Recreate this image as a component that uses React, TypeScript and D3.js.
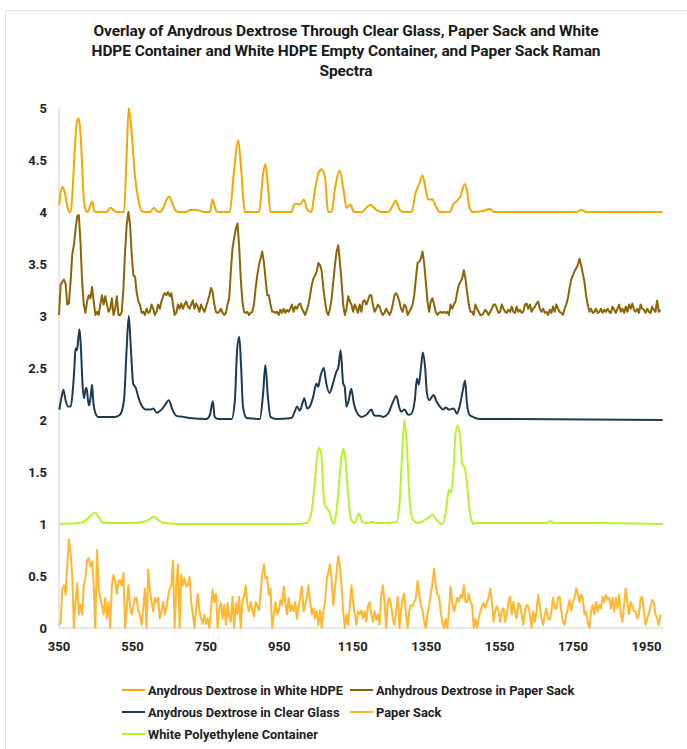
import React from 'react';
import * as d3 from 'd3';

const W = 687;
const H = 749;
const PLOT = { left: 59, right: 663, top: 108, bottom: 628 };

const X_MIN = 350;
const X_MAX = 1995;
const xTicks = [350, 550, 750, 950, 1150, 1350, 1550, 1750, 1950];
const yTicks = [0, 0.5, 1, 1.5, 2, 2.5, 3, 3.5, 4, 4.5, 5];

const titleLines = [
  'Overlay of Anydrous Dextrose Through Clear Glass, Paper Sack and White',
  'HDPE Container and White HDPE Empty Container, and Paper Sack Raman',
  'Spectra',
];

// wavenumber grid of the two noisy spectra (cm-1)
const noisyGrid = d3.range(350, 1990, 4.5);

const paperSack = [
  0.03, 0.05, 0.38, 0.41, 0.32, 0.61, 0.85, 0.72, 0.51, 0, 0.25, 0.43, 0.13, 0.22, 0.13, 0.41, 0.48, 0.65, 0.67, 0.59,
  0.64, 0.41, 0, 0.75, 0.38, 0.29, 0.22, 0.13, 0.29, 0.09, 0.25, 0, 0.41, 0.51, 0.45, 0.33, 0.45, 0.46, 0.41, 0.53,
  0, 0.19, 0.41, 0.21, 0.13, 0.21, 0.29, 0.29, 0.16, 0.13, 0.03, 0.19, 0.38, 0, 0.56, 0.37, 0.25, 0.16, 0.29, 0.25,
  0.29, 0.09, 0.16, 0.25, 0.13, 0.19, 0.3, 0.38, 0.41, 0.65, 0, 0.41, 0.61, 0, 0.51, 0.41, 0.48, 0.4, 0.41, 0.49,
  0.25, 0.13, 0, 0.19, 0.33, 0.16, 0.09, 0.04, 0.13, 0.04, 0.09, 0, 0.19, 0.37, 0.25, 0.33, 0, 0.19, 0.24, 0.09,
  0.22, 0.03, 0.24, 0.11, 0.06, 0.3, 0, 0.24, 0.13, 0.3, 0, 0.27, 0.3, 0.41, 0.22, 0.16, 0.25, 0.17, 0.11, 0.25,
  0.21, 0.17, 0.33, 0.51, 0.61, 0.48, 0.49, 0.32, 0.38, 0, 0.13, 0.25, 0.13, 0.17, 0.27, 0.22, 0.4, 0.24, 0.13, 0.29,
  0.16, 0.22, 0.16, 0.25, 0.09, 0.21, 0.29, 0.4, 0.16, 0.22, 0.29, 0.41, 0.25, 0.13, 0.19, 0.09, 0.16, 0.03, 0.17, 0,
  0.16, 0.25, 0.46, 0.54, 0.61, 0.45, 0.22, 0.38, 0.54, 0.69, 0.59, 0.41, 0.16, 0, 0.13, 0.03, 0.21, 0.41, 0.25, 0.13,
  0.03,
  0.16, 0.13, 0.17, 0.09, 0.16, 0.06, 0.21, 0.25, 0.13, 0.06, 0.16, 0.08, 0.13, 0.03, 0.32, 0.41, 0.25, 0, 0.25, 0.29,
  0.22, 0.09, 0.03, 0.16, 0.3, 0, 0.16, 0.29, 0.33, 0.13, 0, 0.16, 0.22, 0.21, 0.25, 0.29, 0.45, 0.32, 0.22, 0.17,
  0.06, 0, 0.13, 0.22, 0.32, 0.43, 0.57, 0.41, 0.32, 0.3, 0.16, 0.06, 0, 0.09, 0, 0.16, 0.4, 0.25, 0.16, 0.22,
  0.29, 0.25, 0.32, 0.29, 0.41, 0.25, 0.25, 0.33, 0.25, 0.22, 0, 0.09, 0, 0.09, 0.16, 0.21, 0.24, 0.19, 0.25, 0.29,
  0.38, 0.25, 0.06, 0.17, 0.21, 0.16, 0.06, 0.17, 0.19, 0.06, 0.13, 0.25, 0.3, 0.13, 0.25, 0.16, 0.09, 0.24, 0.22, 0.13,
  0.03, 0.16, 0.22, 0.21, 0.13, 0, 0.16, 0.06, 0.16, 0.32, 0.22, 0.09, 0.03, 0.13, 0.19, 0.09, 0.08, 0.16, 0.29, 0.19,
  0.19, 0.29, 0.3, 0.16, 0.06, 0.03, 0.13, 0.19, 0.27, 0.17, 0.25, 0.29, 0.38, 0.32, 0.25, 0.32, 0.29, 0.13, 0.16, 0.06,
  0, 0.16, 0.22, 0.13, 0.25, 0.16, 0.22, 0.19, 0.3, 0.25, 0.32, 0.27, 0.29, 0.19, 0.29, 0.16, 0.29, 0.19, 0.32, 0.13,
  0.06, 0.22, 0.38, 0.25, 0.13, 0.25, 0.21, 0.16, 0.16, 0.09, 0.13, 0.29, 0.3, 0.16, 0.03, 0.09, 0.14, 0.21, 0.27, 0.25,
  0.13, 0.09, 0.03, 0.13,
];

const dextroseInPaperSack = [
  3.01, 3.3, 3.33, 3.35, 3.31, 3.11, 3.12, 3.33, 3.59, 3.68, 3.83, 3.96, 3.97, 3.71, 3.33, 3.11, 3.03, 3.14, 3.2, 3.17,
  3.28, 3.14, 3.01, 3.04, 3.01, 3.11, 3.2, 3.11, 3.19, 3.11, 3.04, 3.07, 3.17, 3.01, 3.07, 3.19, 3.01, 3.01, 3.04, 3.27,
  3.62, 3.88, 4.0, 3.88, 3.59, 3.39, 3.38, 3.23, 3.14, 3.11, 3.03, 3.04, 3.01, 3.07, 3.03, 3.04, 3.11, 3.07, 3.01, 3.04,
  3.11, 3.07, 3.14, 3.19, 3.22, 3.2, 3.23, 3.19, 3.22, 3.11, 3.01, 3.03, 3.11, 3.07, 3.12, 3.07, 3.11, 3.14, 3.09, 3.07,
  3.11, 3.15, 3.07, 3.12, 3.09, 3.04, 3.11, 3.07, 3.04, 3.09, 3.14, 3.2, 3.27, 3.23, 3.11, 3.04, 3.03, 3.04, 3.07, 3.03,
  3.01, 3.03, 3.11, 3.17, 3.43, 3.65, 3.75, 3.84, 3.89, 3.68, 3.36, 3.14, 3.04, 3.03, 3.04, 3.01, 3.03, 3.04, 3.11, 3.27,
  3.39, 3.49, 3.55, 3.62, 3.52, 3.36, 3.2, 3.2, 3.11, 3.04, 3.04, 3.03, 3.04, 3.01, 3.06, 3.03, 3.07, 3.03, 3.06, 3.04,
  3.07, 3.11, 3.04, 3.09, 3.07, 3.11, 3.12, 3.07, 3.04, 3.01, 3.06, 3.11, 3.2, 3.3, 3.36, 3.39, 3.43, 3.51, 3.49, 3.43,
  3.27, 3.14, 3.04, 3.01, 3.07, 3.17, 3.33, 3.49, 3.62, 3.68, 3.52, 3.33, 3.11, 3.01, 3.07, 3.19, 3.14, 3.11, 3.04, 3.11,
  3.07,
  3.03, 3.11, 3.04, 3.14, 3.15, 3.11, 3.15, 3.2, 3.2, 3.11, 3.04, 3.07, 3.11, 3.09, 3.04, 3.01, 3.03, 3.07, 3.04, 3.01,
  3.04, 3.11, 3.2, 3.22, 3.19, 3.14, 3.07, 3.04, 3.11, 3.09, 3.01, 3.04, 3.07, 3.11, 3.2, 3.36, 3.51, 3.52, 3.55, 3.62,
  3.51, 3.33, 3.14, 3.04, 3.14, 3.17, 3.11, 3.04, 3.01, 3.03, 3.04, 3.03, 3.04, 3.03, 3.04, 3.01, 3.11, 3.07, 3.11, 3.14,
  3.23, 3.3, 3.33, 3.36, 3.44, 3.36, 3.23, 3.11, 3.04, 3.04, 3.01, 3.11, 3.07, 3.04, 3.01, 3.01, 3.03, 3.06, 3.04, 3.01,
  3.04, 3.07, 3.11, 3.11, 3.07, 3.03, 3.04, 3.11, 3.07, 3.04, 3.03, 3.06, 3.04, 3.09, 3.04, 3.03, 3.09, 3.04, 3.06, 3.03,
  3.04, 3.11, 3.12, 3.07, 3.11, 3.04, 3.07, 3.09, 3.12, 3.14, 3.07, 3.04, 3.07, 3.03, 3.04, 3.01, 3.06, 3.03, 3.09, 3.04,
  3.11, 3.07, 3.04, 3.03, 3.01, 3.07, 3.11, 3.17, 3.27, 3.35, 3.39, 3.43, 3.46, 3.49, 3.55, 3.49, 3.41, 3.33, 3.2, 3.11,
  3.04, 3.07, 3.03, 3.04, 3.07, 3.03, 3.04, 3.07, 3.03, 3.06, 3.04, 3.07, 3.04, 3.03, 3.09, 3.06, 3.03, 3.07, 3.11, 3.04,
  3.07, 3.03, 3.09, 3.04, 3.11, 3.07, 3.12, 3.06, 3.04, 3.07, 3.03, 3.11, 3.07, 3.06, 3.03, 3.07, 3.04, 3.03, 3.09, 3.06,
  3.04, 3.15, 3.04, 3.06,
];

// [wavenumber, intensity] points
const dextroseInWhiteHDPE: [number, number][] = [
  [351, 4.07], [354, 4.18], [360, 4.24], [366, 4.18], [373, 4.05], [378, 4.0], [382, 4.0], [387, 4.21], [393, 4.6],
  [398, 4.85], [403, 4.9], [407, 4.82], [412, 4.53], [416, 4.21], [422, 4.02], [428, 4.0], [434, 4.05], [441, 4.1],
  [446, 4.01], [452, 4.0], [480, 4.0], [489, 4.04], [498, 4.02], [507, 4.0], [527, 4.0], [534, 4.53], [540, 5.0],
  [548, 4.76], [557, 4.34], [566, 4.12], [575, 4.01], [584, 4.0], [598, 4.0], [608, 4.04], [616, 4.01], [625, 4.0],
  [634, 4.04], [643, 4.12], [650, 4.15], [659, 4.08], [668, 4.01], [677, 4.0], [697, 4.0], [706, 4.02], [724, 4.02],
  [735, 4.01], [743, 4.0], [761, 4.0], [768, 4.12], [777, 4.02], [783, 4.0], [815, 4.0], [826, 4.37], [838, 4.69],
  [847, 4.37], [856, 4.0], [895, 4.0], [906, 4.37], [912, 4.46], [920, 4.21], [926, 4.0], [983, 4.0], [990, 4.07],
  [997, 4.08], [1006, 4.07], [1017, 4.12], [1026, 4.02], [1037, 4.0], [1047, 4.21], [1056, 4.37], [1065, 4.41],
  [1074, 4.34], [1083, 4.0], [1092, 4.0], [1101, 4.21], [1114, 4.4], [1125, 4.21], [1133, 4.04], [1144, 4.07],
  [1153, 4.0], [1174, 4.0], [1187, 4.04], [1198, 4.07], [1214, 4.02], [1228, 4.0], [1246, 4.0], [1260, 4.07],
  [1267, 4.11], [1278, 4.02], [1287, 4.0], [1310, 4.0], [1321, 4.18], [1332, 4.28], [1340, 4.35], [1349, 4.21],
  [1355, 4.12], [1367, 4.12], [1378, 4.04], [1387, 4.0], [1414, 4.0], [1425, 4.08], [1432, 4.1], [1443, 4.15],
  [1455, 4.27], [1461, 4.21], [1468, 4.04], [1476, 4.0], [1505, 4.01], [1523, 4.03], [1536, 4.0], [1759, 4.0],
  [1772, 4.02], [1786, 4.0], [1994, 4.0],
];

const dextroseInClearGlass: [number, number][] = [
  [351, 2.1], [357, 2.22], [362, 2.29], [368, 2.19], [375, 2.13], [382, 2.13], [387, 2.26], [392, 2.51], [395, 2.69],
  [399, 2.67], [403, 2.8], [406, 2.87], [410, 2.67], [414, 2.35], [418, 2.21], [422, 2.29], [425, 2.31], [429, 2.19],
  [432, 2.14], [436, 2.22], [440, 2.34], [443, 2.19], [448, 2.08], [457, 2.03], [471, 2.03], [489, 2.03], [502, 2.03],
  [516, 2.05], [527, 2.19], [534, 2.67], [540, 3.0], [546, 2.67], [552, 2.35], [559, 2.31], [566, 2.22], [575, 2.14],
  [588, 2.1], [599, 2.1], [607, 2.11], [616, 2.07], [629, 2.1], [638, 2.14], [649, 2.19], [659, 2.1], [670, 2.04],
  [688, 2.03], [706, 2.02], [752, 2.01], [761, 2.05], [769, 2.18], [774, 2.03], [783, 2.01], [820, 2.01], [829, 2.19],
  [835, 2.67], [841, 2.8], [846, 2.51], [851, 2.13], [861, 2.02], [897, 2.01], [906, 2.26], [912, 2.53], [919, 2.22],
  [926, 2.03], [942, 2.01], [983, 2.02], [992, 2.08], [998, 2.13], [1006, 2.09], [1013, 2.16], [1018, 2.21],
  [1026, 2.11], [1033, 2.13], [1042, 2.22], [1051, 2.35], [1056, 2.32], [1062, 2.42], [1071, 2.5], [1078, 2.35],
  [1087, 2.26], [1096, 2.35], [1105, 2.46], [1111, 2.51], [1117, 2.67], [1124, 2.35], [1128, 2.32], [1133, 2.13],
  [1139, 2.19], [1146, 2.3], [1153, 2.16], [1160, 2.08], [1174, 2.03], [1187, 2.05], [1201, 2.1], [1207, 2.05],
  [1216, 2.04], [1223, 2.04], [1233, 2.03], [1246, 2.06], [1258, 2.16], [1269, 2.23], [1276, 2.13], [1282, 2.08],
  [1291, 2.1], [1301, 2.05], [1310, 2.06], [1319, 2.19], [1325, 2.4], [1330, 2.34], [1336, 2.51], [1341, 2.65],
  [1347, 2.51], [1352, 2.26], [1358, 2.19], [1365, 2.22], [1370, 2.24], [1378, 2.18], [1387, 2.13], [1396, 2.1],
  [1403, 2.12], [1412, 2.1], [1425, 2.11], [1434, 2.06], [1441, 2.13], [1450, 2.29], [1456, 2.38], [1461, 2.16],
  [1468, 2.05], [1477, 2.03], [1496, 2.01], [1541, 2.01], [1994, 2.0],
];

const whitePolyethylene: [number, number][] = [
  [351, 1.0], [407, 1.01], [425, 1.04], [439, 1.09], [448, 1.11], [457, 1.07], [471, 1.01], [489, 1.01], [543, 1.01],
  [579, 1.02], [598, 1.05], [608, 1.07], [620, 1.04], [634, 1.01], [679, 1.0], [997, 1.0], [1024, 1.01], [1037, 1.1],
  [1046, 1.39], [1053, 1.65], [1058, 1.73], [1065, 1.65], [1069, 1.36], [1074, 1.18], [1080, 1.15], [1085, 1.13],
  [1092, 1.04], [1098, 1.0], [1105, 1.1], [1115, 1.49], [1121, 1.68], [1125, 1.72], [1130, 1.62], [1137, 1.29],
  [1146, 1.04], [1155, 1.01], [1167, 1.1], [1176, 1.02], [1187, 1.01], [1204, 1.02], [1214, 1.01], [1251, 1.01],
  [1269, 1.02], [1278, 1.23], [1285, 1.71], [1291, 2.0], [1298, 1.71], [1305, 1.23], [1314, 1.04], [1328, 1.01],
  [1346, 1.04], [1360, 1.07], [1367, 1.09], [1378, 1.04], [1394, 1.0], [1403, 1.1], [1412, 1.33], [1418, 1.3],
  [1425, 1.55], [1430, 1.87], [1437, 1.95], [1443, 1.81], [1448, 1.58], [1454, 1.55], [1459, 1.46], [1467, 1.17],
  [1473, 1.04], [1479, 1.0], [1486, 1.01], [1541, 1.01], [1632, 1.01], [1677, 1.01], [1688, 1.03], [1697, 1.01],
  [1813, 1.01], [1994, 1.0],
];

const seriesNames = [
  'Anydrous Dextrose in White HDPE',
  'Anhydrous Dextrose in Paper Sack',
  'Anydrous Dextrose in Clear Glass',
  'Paper Sack',
  'White Polyethylene Container',
];
const seriesColors = ['#F3A800', '#8C6508', '#1C3B52', '#FFB730', '#B9F22A'];

export default function App() {
  const x = d3.scaleLinear().domain([X_MIN, X_MAX]).range([PLOT.left, PLOT.right]);
  const y = d3.scaleLinear().domain([0, 5]).range([PLOT.bottom, PLOT.top]);

  const smooth = d3
    .line<[number, number]>()
    .x((d) => x(d[0]))
    .y((d) => y(d[1]))
    .curve(d3.curveMonotoneX);
  const raw = d3
    .line<[number, number]>()
    .x((d) => x(d[0]))
    .y((d) => y(d[1]));

  const paperPts: [number, number][] = paperSack.map((v, i) => [noisyGrid[i], v]);
  const brownPts: [number, number][] = dextroseInPaperSack.map((v, i) => [noisyGrid[i], v]);

  const paths = [
    { d: smooth(dextroseInWhiteHDPE), c: seriesColors[0] },
    { d: raw(brownPts), c: seriesColors[1] },
    { d: smooth(dextroseInClearGlass), c: seriesColors[2] },
    { d: raw(paperPts), c: seriesColors[3] },
    { d: smooth(whitePolyethylene), c: seriesColors[4] },
  ];

  const legend = [
    { i: 0, lx: 122, ly: 690 },
    { i: 1, lx: 350, ly: 690 },
    { i: 2, lx: 122, ly: 712 },
    { i: 3, lx: 350, ly: 712 },
    { i: 4, lx: 122, ly: 734 },
  ];

  return (
    <svg
      width={W}
      height={H}
      style={{ position: 'absolute', left: 0, top: 0, background: '#fff' }}
      fontFamily="Roboto, 'Noto Sans', sans-serif"
    >
      <rect x={0} y={0} width={W} height={H} fill="#fff" />
      <line x1={5} y1={10.5} x2={W} y2={10.5} stroke="#e2e2e2" />
      <line x1={5.5} y1={10} x2={5.5} y2={H} stroke="#e2e2e2" />
      {titleLines.map((t, i) => (
        <text
          key={i}
          x={346}
          y={35.5 + i * 20}
          textAnchor="middle"
          fontSize={15.5}
          fontWeight={700}
          fill="#1a1a1a"
          letterSpacing={-0.1}
        >
          {t}
        </text>
      ))}
      <line x1={PLOT.left} y1={PLOT.top} x2={PLOT.left} y2={PLOT.bottom} stroke="#cfcfcf" />
      <line x1={PLOT.left} y1={PLOT.bottom} x2={PLOT.right} y2={PLOT.bottom} stroke="#cfcfcf" />
      {yTicks.map((t) => (
        <text key={t} x={47} y={y(t) + 4.5} textAnchor="end" fontSize={13} fontWeight={700} fill="#222">
          {t}
        </text>
      ))}
      {xTicks.map((t) => (
        <text key={t} x={x(t)} y={651} textAnchor="middle" fontSize={13} fontWeight={700} fill="#222">
          {t}
        </text>
      ))}
      {paths.map((p, i) => (
        <path key={i} d={p.d || ''} fill="none" stroke={p.c} strokeWidth={2} strokeLinejoin="round" />
      ))}
      {legend.map((l) => (
        <g key={l.i}>
          <line x1={l.lx} y1={l.ly} x2={l.lx + 23} y2={l.ly} stroke={seriesColors[l.i]} strokeWidth={2} />
          <text x={l.lx + 26} y={l.ly + 4.5} fontSize={12.8} fontWeight={700} fill="#222">
            {seriesNames[l.i]}
          </text>
        </g>
      ))}
    </svg>
  );
}
